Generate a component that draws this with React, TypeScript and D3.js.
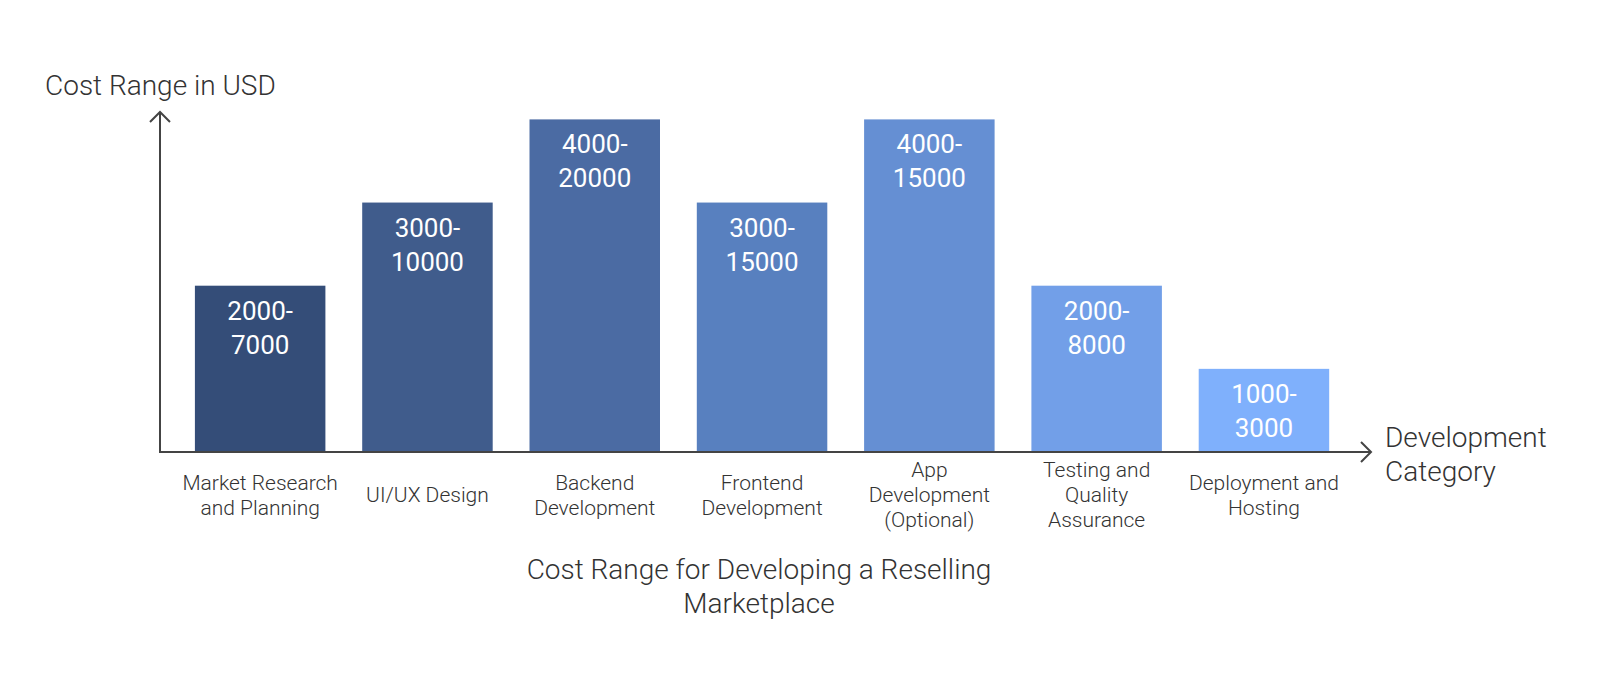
import React from "react";
import * as d3 from "d3";

const categories: string[][] = [
  ["Market Research", "and Planning"],
  ["UI/UX Design"],
  ["Backend", "Development"],
  ["Frontend", "Development"],
  ["App", "Development", "(Optional)"],
  ["Testing and", "Quality", "Assurance"],
  ["Deployment and", "Hosting"],
];
const minCost: number[] = [2000, 3000, 4000, 3000, 4000, 2000, 1000];
const maxCost: number[] = [7000, 10000, 20000, 15000, 15000, 8000, 3000];
const barColors: string[] = ["#344d78", "#405c8c", "#4b6ba3", "#5880bf", "#658fd3", "#729fe8", "#7fb0fc"];
const yAxisTitle = "Cost Range in USD";
const xAxisTitle = ["Development", "Category"];
const chartTitle = ["Cost Range for Developing a Reselling", "Marketplace"];

const W = 1600;
const H = 688;
const FONT = "Roboto, 'Noto Sans', sans-serif";
const AXIS = "#444444";
const TEXT = "#333333";

export default function App() {
  const keys = categories.map((c) => c.join(" "));
  const x = d3.scaleBand<string>().domain(keys).range([176.5, 1347.6]).paddingInner(0.22).paddingOuter(0.11);
  const y = d3.scaleLinear().domain([0, 4000]).range([452, 119.4]);
  const x0 = 160;
  const y0 = 452;
  const yTip = 112;
  const xTip = 1371;

  return (
    <svg width={W} height={H} style={{ position: "absolute", left: 0, top: 0 }} fontFamily={FONT}>
      <rect width={W} height={H} fill="#ffffff" />
      {keys.map((k, i) => {
        const bx = x(k)!;
        const bw = x.bandwidth();
        const top = y(minCost[i]);
        return (
          <g key={k}>
            <rect x={bx} y={top} width={bw} height={y0 - top} fill={barColors[i]} />
            <text x={bx + bw / 2} y={top + 34} textAnchor="middle" fill="#ffffff" fontSize={26}>
              <tspan x={bx + bw / 2}>{minCost[i]}-</tspan>
              <tspan x={bx + bw / 2} dy={34}>{maxCost[i]}</tspan>
            </text>
            <text textAnchor="middle" fill={TEXT} fontSize={21} fontWeight={300}>
              {categories[i].map((line, j) => {
                const n = categories[i].length;
                const cy = 495 - ((n - 1) * 25) / 2 + j * 25 + 7;
                return (
                  <tspan key={j} x={bx + bw / 2} y={cy}>
                    {line}
                  </tspan>
                );
              })}
            </text>
          </g>
        );
      })}
      {/* axes */}
      <path d={`M${x0},${y0} L${x0},${yTip}`} stroke={AXIS} strokeWidth={2} fill="none" />
      <path d={`M${x0 - 10},${yTip + 10} L${x0},${yTip} L${x0 + 10},${yTip + 10}`} stroke={AXIS} strokeWidth={2} fill="none" />
      <path d={`M${x0 - 1},${y0} L${xTip},${y0}`} stroke={AXIS} strokeWidth={2} fill="none" />
      <path d={`M${xTip - 10},${y0 - 10} L${xTip},${y0} L${xTip - 10},${y0 + 10}`} stroke={AXIS} strokeWidth={2} fill="none" />
      <text x={45} y={95} fill={TEXT} fontSize={28} fontWeight={300}>{yAxisTitle}</text>
      <text fill={TEXT} fontSize={28} fontWeight={300}>
        <tspan x={1385} y={447}>{xAxisTitle[0]}</tspan>
        <tspan x={1385} y={481}>{xAxisTitle[1]}</tspan>
      </text>
      <text fill={TEXT} fontSize={28} fontWeight={300} textAnchor="middle">
        <tspan x={759} y={579}>{chartTitle[0]}</tspan>
        <tspan x={759} y={613}>{chartTitle[1]}</tspan>
      </text>
    </svg>
  );
}
